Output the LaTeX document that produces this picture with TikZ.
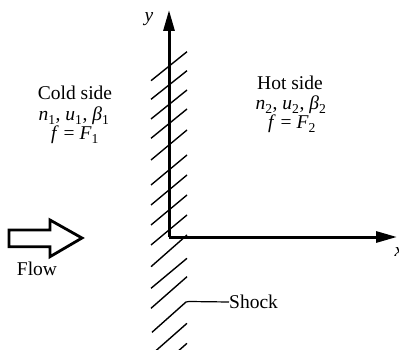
\documentclass[tikz,border=0pt]{standalone}
\usepackage{fontspec}
\setmainfont{Liberation Serif}
\usetikzlibrary{arrows.meta}
\tikzset{
  lbl/.style={inner sep=0pt, font=\fontsize{19.5}{22}\selectfont},
  mathlbl/.style={lbl, text height=10pt, text depth=2pt},
  axis/.style={line width=3pt, -{Triangle[length=21pt,width=11pt]}},
  hatch/.style={line width=1.4pt},
  flowarrow/.style={line width=2.8pt, line join=miter},
}
\begin{document}
\begin{tikzpicture}[x=1pt,y=-1pt]
\useasboundingbox (0,0) rectangle (399,350);
% hatching of the shock
\foreach \ly/\uy in {80.7/51.7, 99.3/70.7, 119/90, 138.3/109, 160/130, 185/155, 205/175, 225/195, 245/215, 266.7/235, 288.3/258.3, 308.3/276.7, 355/323.3, 375/343.3}
  \draw[hatch] (151,\ly) -- (187,\uy);
% axes
\coordinate (O) at (169,237);
\coordinate (ytip) at (169,10);
\coordinate (xtip) at (397,237);
\draw[axis] (O) -- (ytip);
\draw[axis] (O) -- (xtip);
\node[lbl, font=\fontsize{19.5}{22}\selectfont\itshape] (ylab) at (149,19) {y};
\node[lbl, font=\fontsize{19.5}{22}\selectfont\itshape] (xlab) at (399,252) {x};
% shock label
\node[lbl, anchor=west] (shock) at (229,302) {Shock};
\coordinate (shk) at (186,302);
\draw[hatch] (152,332.3) -- (shk);
\draw[line width=1.2pt] (shk) -- (189,301.5) -- (shock.west);
% texts
\node[lbl] (cold) at (75,93) {Cold side};
\node[mathlbl] (cold2) at (74,117) {\textit{n}\textsubscript{1}, \textit{u}\textsubscript{1}, \textit{β}\textsubscript{1}};
\node[mathlbl] (cold3) at (75,136) {\textit{f} = \textit{F}\textsubscript{1}};
\node[lbl] (hot) at (290,83) {Hot side};
\node[mathlbl] (hot2) at (291,106) {\textit{n}\textsubscript{2}, \textit{u}\textsubscript{2}, \textit{β}\textsubscript{2}};
\node[mathlbl] (hot3) at (292,125) {\textit{f} = \textit{F}\textsubscript{2}};
% flow arrow
\draw[flowarrow] (9,230) -- (50,230) -- (50,220) -- (82,238) -- (50,256.7) -- (50,246.7) -- (9,246.7) -- cycle;
\node[lbl] (flow) at (37,269) {Flow};
\end{tikzpicture}
\end{document}
